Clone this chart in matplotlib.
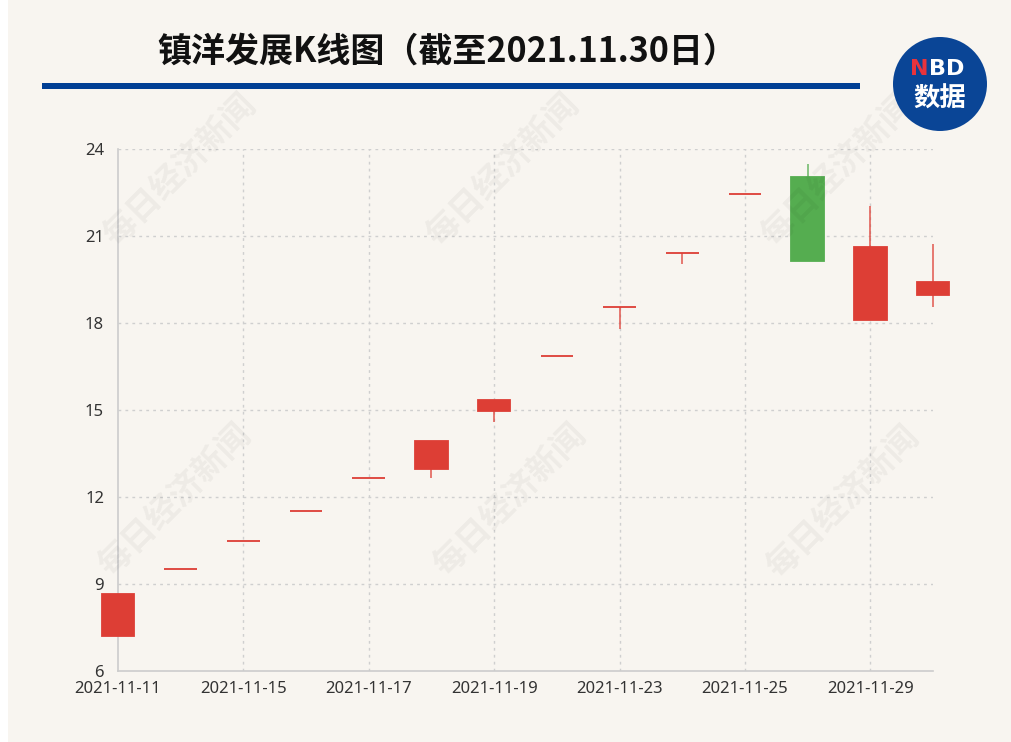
import matplotlib
matplotlib.use("Agg")
import matplotlib.pyplot as plt
from matplotlib.patches import Ellipse, Rectangle

plt.rcParams['font.family'] = ['Noto Sans', 'Noto Sans CJK SC', 'DejaVu Sans']

dates = ['2021-11-11', '2021-11-12', '2021-11-15', '2021-11-16', '2021-11-17',
         '2021-11-18', '2021-11-19', '2021-11-22', '2021-11-23', '2021-11-24',
         '2021-11-25', '2021-11-26', '2021-11-29', '2021-11-30']
open_p = [7.21, 9.52, 10.47, 11.52, 12.67, 12.95, 14.97, 16.86, 18.55, 20.41, 22.45, 23.03, 18.11, 18.98]
close_p = [8.65, 9.52, 10.47, 11.52, 12.67, 13.94, 15.33, 16.86, 18.55, 20.41, 22.45, 20.13, 20.63, 19.42]
low_p = [7.21, 9.52, 10.47, 11.52, 12.67, 12.67, 14.60, 16.86, 17.78, 20.02, 22.45, 20.13, 18.11, 18.55]
high_p = [8.65, 9.52, 10.47, 11.52, 12.67, 13.94, 15.33, 16.86, 18.55, 20.41, 22.45, 23.49, 22.02, 20.71]
y_ticks = [6, 9, 12, 15, 18, 21, 24]
title = '镇洋发展K线图（截至2021.11.30日）'

BG = '#f8f5f0'
UP = '#dd3e35'
DOWN = '#55ad50'

W, H = 1012, 742
fig = plt.figure(figsize=(W / 100, H / 100), dpi=100, facecolor=BG)

def fx(px):
    return px / W

def fy(py):
    return 1 - py / H

# white strip on the left edge
fig.add_artist(Rectangle((0, 0), fx(8), 1, transform=fig.transFigure,
                         facecolor='white', edgecolor='none', zorder=0))

ax = fig.add_axes([fx(118), fy(671), fx(933 - 118), fy(149) - fy(671)])
ax.set_facecolor('none')

x = list(range(len(dates)))
colors = [UP if c >= o else DOWN for o, c in zip(open_p, close_p)]

# wicks
ax.vlines(x, low_p, high_p, colors=colors, linewidth=1.2, alpha=0.8, zorder=3,
          clip_on=False)
# bodies
heights = [c - o for o, c in zip(open_p, close_p)]
bars = ax.bar(x, heights, bottom=open_p, width=0.52, color=colors, edgecolor=colors,
              linewidth=1.3, zorder=4)
for b in bars:
    b.set_clip_on(False)

ax.set_xlim(0, 13)
ax.set_ylim(6, 24)
ax.set_yticks(y_ticks)
ax.set_yticklabels([str(v) for v in y_ticks])
tick_idx = list(range(0, len(dates), 2))
ax.set_xticks(tick_idx)
ax.set_xticklabels([dates[i] for i in tick_idx])
ax.tick_params(axis='both', length=0, labelsize=12, colors='#333333')
ax.tick_params(axis='y', pad=10)
ax.tick_params(axis='x', pad=7)

for s in ['top', 'right']:
    ax.spines[s].set_visible(False)
for s in ['left', 'bottom']:
    ax.spines[s].set_color('#cccccc')
    ax.spines[s].set_linewidth(1.2)

for v in y_ticks[1:]:
    ax.axhline(v, color='#cfcfcf', linewidth=1, linestyle=(0, (2, 3)), zorder=1)
for i in tick_idx[1:]:
    ax.axvline(i, color='#cfcfcf', linewidth=1, linestyle=(0, (2, 3)), zorder=1)

# watermarks
for cx, cy in [(180, 170), (503, 170), (838, 170), (175, 500), (510, 500), (843, 502)]:
    fig.text(fx(cx), fy(cy), '每日经济新闻', rotation=45, ha='center', va='center',
             fontsize=24, fontweight='bold', color='#000000', alpha=0.045,
             family=['Noto Sans CJK SC'], zorder=0)

# title
fig.text(fx(447), fy(51), title, ha='center', va='center', fontsize=24.5,
         fontweight='bold', color='#111111', family=['Noto Sans CJK SC', 'DejaVu Sans'])

# blue bar
fig.add_artist(Rectangle((fx(42), fy(89)), fx(860 - 42), fy(83) - fy(89),
                         transform=fig.transFigure, facecolor='#003f94',
                         edgecolor='none'))

# logo
fig.add_artist(Ellipse((fx(940), fy(84)), fx(94), fy(37) - fy(131),
                       transform=fig.transFigure, facecolor='#0a4596',
                       edgecolor='none'))
fig.text(fx(929), fy(69), 'N', ha='right', va='center', fontsize=16,
         fontweight='bold', color='#e8333c', family=['DejaVu Sans'])
fig.text(fx(929), fy(69), 'BD', ha='left', va='center', fontsize=16,
         fontweight='bold', color='white', family=['DejaVu Sans'])
fig.text(fx(940), fy(99), '数据', ha='center', va='center', fontsize=19,
         fontweight='bold', color='white', family=['Noto Sans CJK SC'])

fig.savefig('out.png', dpi=100, facecolor=BG)
